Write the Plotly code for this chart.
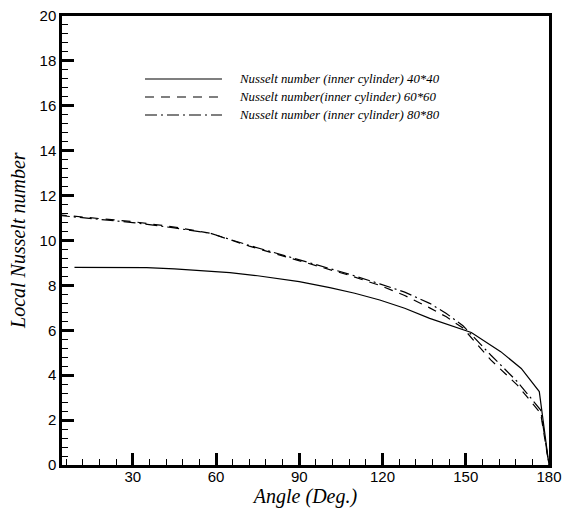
import plotly.graph_objects as go

# Data
angle_40 = [9, 20, 35, 45, 55, 65, 75, 90, 101, 110, 119, 128, 137, 144, 149, 152, 162.6, 170, 176.5, 180]
nu_40 = [8.80, 8.80, 8.79, 8.74, 8.67, 8.57, 8.43, 8.17, 7.90, 7.65, 7.35, 6.98, 6.53, 6.25, 6.05, 5.9, 5.05, 4.3, 3.27, 0.0]

angle_60 = [3, 15, 30, 45, 58, 72, 90, 101, 108, 119, 128, 137, 143, 149, 159, 168.6, 177, 180]
nu_60 = [11.15, 11.02, 10.84, 10.6, 10.32, 9.75, 9.1, 8.7, 8.45, 8.0, 7.55, 7.0, 6.6, 6.1, 4.68, 3.56, 2.3, 0.0]

angle_80 = [3, 15, 30, 45, 58, 72, 90, 101, 108, 119, 128, 137, 143, 149, 159, 168.6, 177, 180]
nu_80 = [11.12, 10.98, 10.8, 10.56, 10.32, 9.78, 9.15, 8.74, 8.5, 8.07, 7.7, 7.2, 6.75, 6.2, 4.9, 3.71, 2.45, 0.0]

legend_labels = [
    "Nusselt number (inner cylinder) 40*40",
    "Nusselt number(inner cylinder) 60*60",
    "Nusselt number (inner cylinder) 80*80",
]
dash_styles = ["solid", "9px,7px", "12px,4px,2px,4px"]

x_tickvals = [30, 60, 90, 120, 150, 180]
y_tickvals = [0, 2, 4, 6, 8, 10, 12, 14, 16, 18, 20]

fig = go.Figure()
for xs, ys, dash, name in zip([angle_40, angle_60, angle_80], [nu_40, nu_60, nu_80], dash_styles, legend_labels):
    fig.add_trace(go.Scatter(x=xs, y=ys, mode="lines", name=name,
                             line=dict(color="black", width=1.2, dash=dash),
                             showlegend=False))

# Manual legend (line samples + text)
leg_y = [0.8597, 0.8196, 0.7795]
for yy, dash, name in zip(leg_y, dash_styles, legend_labels):
    fig.add_shape(type="line", xref="paper", yref="paper", x0=0.1704, x1=0.3285, y0=yy, y1=yy,
                  line=dict(color="black", width=1.2, dash=dash))
    fig.add_annotation(xref="paper", yref="paper", x=0.3593, y=yy, xanchor="left", yanchor="middle",
                       text=name, showarrow=False,
                       font=dict(family="Liberation Serif", size=12.8, color="black", style="italic"))

# y-axis title as a rotated annotation for precise placement
fig.add_annotation(xref="paper", yref="paper", x=-0.0914, y=0.5, xanchor="center", yanchor="middle",
                   text="Local Nusselt number", textangle=-90, showarrow=False,
                   font=dict(family="Liberation Serif", size=20, color="black", style="italic"))

axis_common = dict(
    showline=True, linecolor="black", linewidth=2.5, mirror=True,
    ticks="inside", ticklen=12, tickwidth=2.5, tickcolor="black",
    showgrid=False, zeroline=False, automargin=False,
    tickfont=dict(family="Liberation Sans", size=15, color="black"),
)

fig.update_xaxes(range=[4.5, 180], tickvals=x_tickvals, ticktext=[str(v) for v in x_tickvals],
                 ticklabelstandoff=-4,
                 minor=dict(dtick=6, tick0=0, ticks="inside", ticklen=6, tickwidth=1, tickcolor="black"),
                 title=dict(text="Angle (Deg.)",
                            font=dict(family="Liberation Serif", size=20, color="black", style="italic")),
                 **axis_common)
fig.update_yaxes(range=[0, 20], tickvals=y_tickvals, ticktext=[str(v) for v in y_tickvals],
                 minor=dict(dtick=0.4, tick0=0, ticks="inside", ticklen=6, tickwidth=1, tickcolor="black"),
                 **axis_common)

fig.update_layout(width=563, height=508, margin=dict(l=62, r=14, t=16, b=43),
                  plot_bgcolor="white", paper_bgcolor="white", showlegend=False)

fig.write_html("out.html")
